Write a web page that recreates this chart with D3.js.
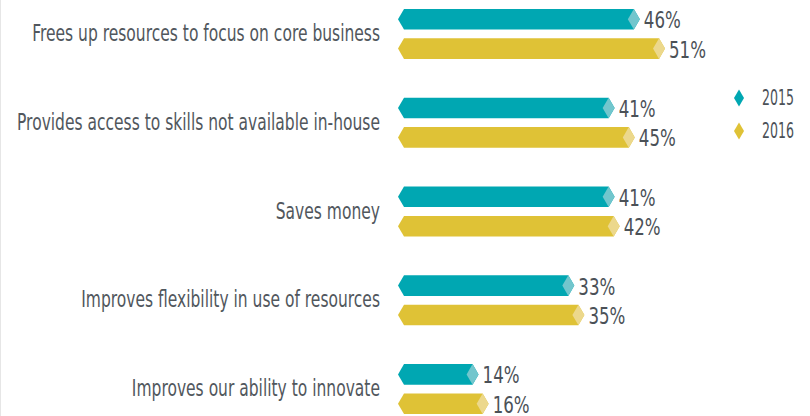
<!DOCTYPE html>
<html>
<head>
<meta charset="utf-8">
<script src="https://cdnjs.cloudflare.com/ajax/libs/d3/7.8.5/d3.min.js"></script>
<style>
  html, body { margin: 0; padding: 0; background: #fff; }
  .chart text { font-family: "DejaVu Sans", sans-serif; }
</style>
</head>
<body>
<div class="chart"></div>
<script>
'use strict';

// chart data
var categories = [
	'Frees up resources to focus on core business',
	'Provides access to skills not available in-house',
	'Saves money',
	'Improves flexibility in use of resources',
	'Improves our ability to innovate'
];
var years = ['2015', '2016'];
var values2015 = [46, 41, 41, 33, 14];
var values2016 = [51, 45, 42, 35, 16];

var colors = { '2015': '#00a7b2', '2016': '#dfc236' };
var tipColors = { '2015': '#72c6cd', '2016': '#ecd88c' };

var width = 810, height = 416;

var svg = d3.select('.chart')
	.append('svg')
		.attr('width', width)
		.attr('height', height);

// faint edge line on the left
svg.append('line')
	.attr('x1', 0.5).attr('x2', 0.5)
	.attr('y1', 0).attr('y2', height)
	.attr('stroke', '#e6e6e6');

// x scale: value -> right tip of the bar
var x = d3.scaleLinear().domain([0, 50]).range([408, 660]);
var barStart = 398;

// category band and year sub-band
var y0 = d3.scaleBand().domain(categories).range([9, 414]).paddingInner(39 / 89);
var y1 = d3.scaleBand().domain(years).range([0, y0.bandwidth()]).paddingInner(0.3);

var rows = categories.map(function(c, i) {
	return { category: c, values: [
		{ year: '2015', value: values2015[i] },
		{ year: '2016', value: values2016[i] }
	] };
});

// hexagon bar shape with pointed ends
function barPath(r, t, h) {
	var b = 6, m = t + h / 2;
	return 'M' + barStart + ',' + m +
		'L' + (barStart + b) + ',' + t +
		'L' + (r - b) + ',' + t +
		'L' + r + ',' + m +
		'L' + (r - b) + ',' + (t + h) +
		'L' + (barStart + b) + ',' + (t + h) + 'Z';
}

// light diamond at the tip
function tipPath(r, t, h) {
	var b = 6, m = t + h / 2;
	return 'M' + (r - 2 * b) + ',' + m +
		'L' + (r - b) + ',' + t +
		'L' + r + ',' + m +
		'L' + (r - b) + ',' + (t + h) + 'Z';
}

// squeeze text horizontally so it looks like the condensed face of the original
function condense(sel, sx) {
	sel.each(function() {
		var t = d3.select(this);
		var tx = +t.attr('x'), ty = +t.attr('y');
		t.attr('x', 0).attr('y', 0)
			.attr('transform', 'translate(' + tx + ',' + ty + ') scale(' + sx + ',1)');
	});
}

var group = svg.selectAll('.row')
		.data(rows)
	.enter().append('g')
		.attr('class', 'row')
		.attr('transform', function(d) { return 'translate(0,' + y0(d.category) + ')'; });

// category labels
var catLabels = group.append('text')
	.attr('x', 380)
	.attr('y', y0.bandwidth() / 2 - 1)
	.attr('dy', '0.35em')
	.attr('text-anchor', 'end')
	.attr('fill', '#51575d')
	.style('font-size', '23px')
	.text(function(d) { return d.category; });

var bars = group.selectAll('.bar')
		.data(function(d) { return d.values; })
	.enter().append('g')
		.attr('class', 'bar');

bars.append('path')
	.attr('d', function(d) { return barPath(x(d.value), y1(d.year), y1.bandwidth()); })
	.attr('fill', function(d) { return colors[d.year]; });

bars.append('path')
	.attr('d', function(d) { return tipPath(x(d.value), y1(d.year), y1.bandwidth()); })
	.attr('fill', function(d) { return tipColors[d.year]; });

// value labels
var valLabels = bars.append('text')
	.attr('x', function(d) { return x(d.value) + 4; })
	.attr('y', function(d) { return y1(d.year) + y1.bandwidth() / 2 + 1; })
	.attr('dy', '0.35em')
	.attr('fill', '#4b5157')
	.style('font-size', '23px')
	.text(function(d) { return d.value + '%'; });

// legend
var legend = svg.selectAll('.legend')
		.data(years)
	.enter().append('g')
		.attr('class', 'legend')
		.attr('transform', function(d, i) { return 'translate(739,' + (98 + i * 33) + ')'; });

legend.append('path')
	.attr('d', 'M-5,0L0,-8.5L5,0L0,8.5Z')
	.attr('fill', function(d) { return colors[d]; });

var legLabels = legend.append('text')
	.attr('x', 23)
	.attr('y', 0)
	.attr('dy', '0.35em')
	.attr('fill', '#4b5157')
	.style('font-size', '21px')
	.text(function(d) { return d; });

// width targets taken from the original: first label 348px, "46%" 37px, "2015" 32px
var catSx = 348 / catLabels.node().getComputedTextLength();
var valSx = 37 / valLabels.node().getComputedTextLength();
var legSx = 32 / legLabels.node().getComputedTextLength();
condense(catLabels, catSx);
condense(valLabels, valSx);
condense(legLabels, legSx);
</script>
</body>
</html>
